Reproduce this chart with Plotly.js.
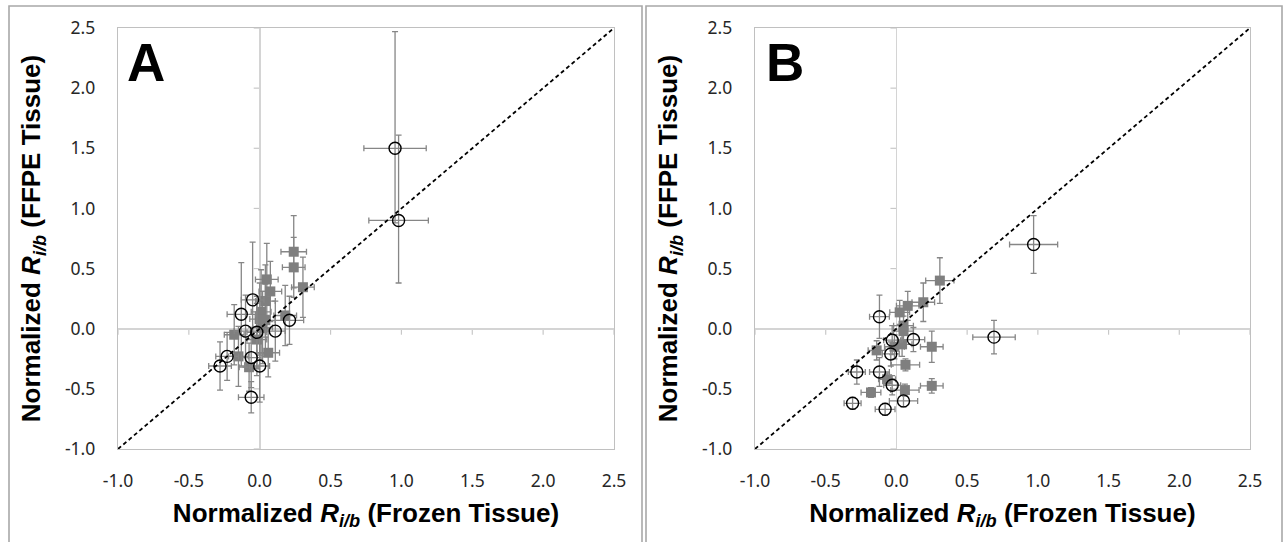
<!DOCTYPE html>
<html><head><meta charset="utf-8">
<script src="https://cdn.plot.ly/plotly-3.0.1.min.js"></script>
<style>html,body{margin:0;padding:0;background:#fff}#chart{width:1285px;height:542px}</style>
</head><body><div id="chart"></div>
<script>
// axis ticks
const tickVals = [-1.0, -0.5, 0.0, 0.5, 1.0, 1.5, 2.0, 2.5];
const tickText = ['-1.0', '-0.5', '0.0', '0.5', '1.0', '1.5', '2.0', '2.5'];
const axisRange = [-1.0, 2.5];
// identity (y = x) reference line
const diagX = [-1.0, 2.5];
const diagY = [-1.0, 2.5];

// Panel A - open circles
const aCircX  = [-0.05, -0.13, -0.10, -0.02, 0.11, 0.21, -0.23, -0.28, -0.06, 0.00, -0.06, 0.955, 0.98];
const aCircY  = [0.24, 0.12, -0.02, -0.03, -0.02, 0.07, -0.23, -0.31, -0.24, -0.31, -0.57, 1.50, 0.90];
const aCircEX = [0.08, 0.10, 0.08, 0.07, 0.07, 0.10, 0.08, 0.08, 0.07, 0.07, 0.09, 0.22, 0.21];
const aCircEYp = [0.48, 0.43, 0.30, 0.30, 0.25, 0.20, 0.20, 0.20, 0.25, 0.30, 0.13, 0.97, 0.71];
const aCircEYm = [0.30, 0.43, 0.30, 0.30, 0.25, 0.20, 0.20, 0.20, 0.25, 0.30, 0.13, 0.62, 0.52];
// Panel A - filled squares
const aSqX  = [0.24, 0.24, 0.305, 0.05, 0.075, 0.04, 0.01, 0.04, 0.18, -0.18, -0.02, 0.06, -0.15, -0.075, 0.02, 0.00];
const aSqY  = [0.64, 0.51, 0.345, 0.41, 0.31, 0.23, 0.14, 0.07, 0.11, -0.05, -0.09, -0.20, -0.23, -0.32, 0.01, 0.08];
const aSqEX = [0.09, 0.08, 0.08, 0.08, 0.08, 0.07, 0.07, 0.07, 0.08, 0.07, 0.07, 0.08, 0.07, 0.07, 0.07, 0.07];
const aSqEY = [0.30, 0.25, 0.25, 0.30, 0.25, 0.30, 0.35, 0.30, 0.25, 0.25, 0.30, 0.20, 0.25, 0.20, 0.30, 0.30];

// Panel B - open circles
const bCircX  = [-0.12, -0.03, 0.12, 0.69, -0.04, -0.28, -0.12, -0.03, -0.31, 0.05, -0.08, 0.97];
const bCircY  = [0.10, -0.095, -0.09, -0.07, -0.21, -0.36, -0.36, -0.47, -0.62, -0.60, -0.67, 0.70];
const bCircEX = [0.07, 0.06, 0.08, 0.15, 0.06, 0.06, 0.07, 0.06, 0.06, 0.10, 0.07, 0.17];
const bCircEY = [0.18, 0.12, 0.10, 0.14, 0.10, 0.10, 0.12, 0.08, 0.05, 0.05, 0.05, 0.24];
// Panel B - filled squares
const bSqX  = [0.307, 0.19, 0.08, 0.023, 0.05, 0.05, 0.25, 0.04, -0.014, -0.14, 0.064, -0.066, 0.25, 0.06, -0.18];
const bSqY  = [0.40, 0.22, 0.19, 0.136, 0.025, -0.02, -0.15, -0.13, -0.15, -0.18, -0.30, -0.42, -0.475, -0.51, -0.53];
const bSqEX = [0.10, 0.08, 0.08, 0.07, 0.07, 0.07, 0.08, 0.07, 0.07, 0.06, 0.10, 0.06, 0.08, 0.10, 0.07];
const bSqEY = [0.19, 0.16, 0.12, 0.10, 0.08, 0.08, 0.13, 0.10, 0.10, 0.08, 0.05, 0.05, 0.06, 0.05, 0.04];

const errCol = '#868686';
function errs(arr, minus) {
  const e = {type: 'data', array: arr, color: errCol, thickness: 1.3, width: 3, visible: true};
  if (minus) { e.symmetric = false; e.arrayminus = minus; }
  return e;
}
function squares(x, y, ex, ey, xa, ya) {
  return {x, y, xaxis: xa, yaxis: ya, type: 'scatter', mode: 'markers', showlegend: false,
    marker: {symbol: 'square', size: 10, color: '#7f7f7f', line: {width: 0}},
    error_x: errs(ex), error_y: errs(ey), hoverinfo: 'x+y'};
}
function circles(x, y, ex, eyp, eym, xa, ya) {
  return {x, y, xaxis: xa, yaxis: ya, type: 'scatter', mode: 'markers', showlegend: false,
    marker: {symbol: 'circle-open', size: 12, color: '#000', line: {width: 1.4, color: '#000'}},
    error_x: errs(ex), error_y: errs(eyp, eym), hoverinfo: 'x+y'};
}
function diag(xa, ya) {
  return {x: diagX, y: diagY, xaxis: xa, yaxis: ya, type: 'scatter', mode: 'lines', showlegend: false,
    line: {color: '#000', width: 1.8, dash: '4px,3px'}, hoverinfo: 'skip'};
}

const data = [
  squares(aSqX, aSqY, aSqEX, aSqEY, 'x', 'y'),
  circles(aCircX, aCircY, aCircEX, aCircEYp, aCircEYm, 'x', 'y'),
  diag('x', 'y'),
  squares(bSqX, bSqY, bSqEX, bSqEY, 'x2', 'y2'),
  circles(bCircX, bCircY, bCircEX, bCircEY, null, 'x2', 'y2'),
  diag('x2', 'y2')
];

const W = 1285, H = 542;
const tickFont = {family: 'Noto Sans, Open Sans, sans-serif', size: 17.5, color: '#262626'};
const titleFont = {family: 'Liberation Sans, Arial, sans-serif', size: 26, color: '#000'};
const xTitle = '<b>Normalized <i>R</i><sub><i>i/b</i></sub> (Frozen Tissue)</b>';
const yTitle = '<b>Normalized <i>R</i><sub><i>i/b</i></sub> (FFPE Tissue)</b>';

function xAxis(dom, anchor) {
  return {domain: dom, anchor: anchor, range: axisRange, tickvals: tickVals, ticktext: tickText,
    showgrid: false, zeroline: true, zerolinecolor: '#d4d4d4', zerolinewidth: 1.6,
    showline: true, mirror: true, linecolor: '#c0c0c0', linewidth: 1.2,
    ticks: 'outside', ticklen: 16, tickcolor: 'rgba(0,0,0,0)', tickfont: tickFont,
    title: {text: xTitle, font: titleFont, standoff: 12}, automargin: false, fixedrange: true};
}
function yAxis(dom, anchor) {
  return {domain: dom, anchor: anchor, range: axisRange, tickvals: tickVals, ticktext: tickText,
    showgrid: false, zeroline: true, zerolinecolor: '#d4d4d4', zerolinewidth: 1.6,
    showline: true, mirror: true, linecolor: '#c0c0c0', linewidth: 1.2,
    ticks: 'outside', ticklen: 18, tickcolor: 'rgba(0,0,0,0)', tickfont: tickFont,
    title: {text: yTitle, font: titleFont, standoff: 16}, automargin: false, fixedrange: true};
}

const yDom = [(H - 449) / H, (H - 28) / H];
// small tick marks on the zero lines (Excel style axes crossing at 0)
const shapes = [];
[['x', 'y'], ['x2', 'y2']].forEach(([xa, ya]) => {
  tickVals.forEach(v => {
    if (v === 0) return;
    shapes.push({type: 'line', xref: xa, yref: ya, x0: v, x1: v, ysizemode: 'pixel', yanchor: 0, y0: 0, y1: -6,
      line: {color: '#c8c8c8', width: 1.2}, layer: 'below'});
    shapes.push({type: 'line', xref: xa, yref: ya, y0: v, y1: v, xsizemode: 'pixel', xanchor: 0, x0: 0, x1: -6,
      line: {color: '#c8c8c8', width: 1.2}, layer: 'below'});
  });
});
// panel frames
shapes.push({type: 'rect', xref: 'paper', yref: 'paper', x0: 9 / W, x1: 642 / W, y0: -0.05, y1: (H - 6) / H,
  line: {color: '#a8a8a8', width: 1.6}});
shapes.push({type: 'rect', xref: 'paper', yref: 'paper', x0: 646 / W, x1: 1282 / W, y0: -0.05, y1: (H - 6) / H,
  line: {color: '#a8a8a8', width: 1.6}});

const layout = {
  width: W, height: H, margin: {l: 0, r: 0, t: 0, b: 0},
  paper_bgcolor: '#fff', plot_bgcolor: '#fff', showlegend: false,
  xaxis: xAxis([118 / W, 614 / W], 'y'),
  yaxis: yAxis(yDom, 'x'),
  xaxis2: xAxis([755 / W, 1250 / W], 'y2'),
  yaxis2: yAxis(yDom, 'x2'),
  shapes: shapes,
  annotations: [
    {text: '<b>A</b>', xref: 'paper', yref: 'paper', x: 125 / W, y: (H - 31) / H, xanchor: 'left', yanchor: 'top',
      showarrow: false, font: {family: 'Liberation Sans, Arial, sans-serif', size: 53, color: '#000'}},
    {text: '<b>B</b>', xref: 'paper', yref: 'paper', x: 764 / W, y: (H - 31) / H, xanchor: 'left', yanchor: 'top',
      showarrow: false, font: {family: 'Liberation Sans, Arial, sans-serif', size: 53, color: '#000'}}
  ]
};
Plotly.newPlot('chart', data, layout, {staticPlot: true, displayModeBar: false});
</script>
</body></html>
